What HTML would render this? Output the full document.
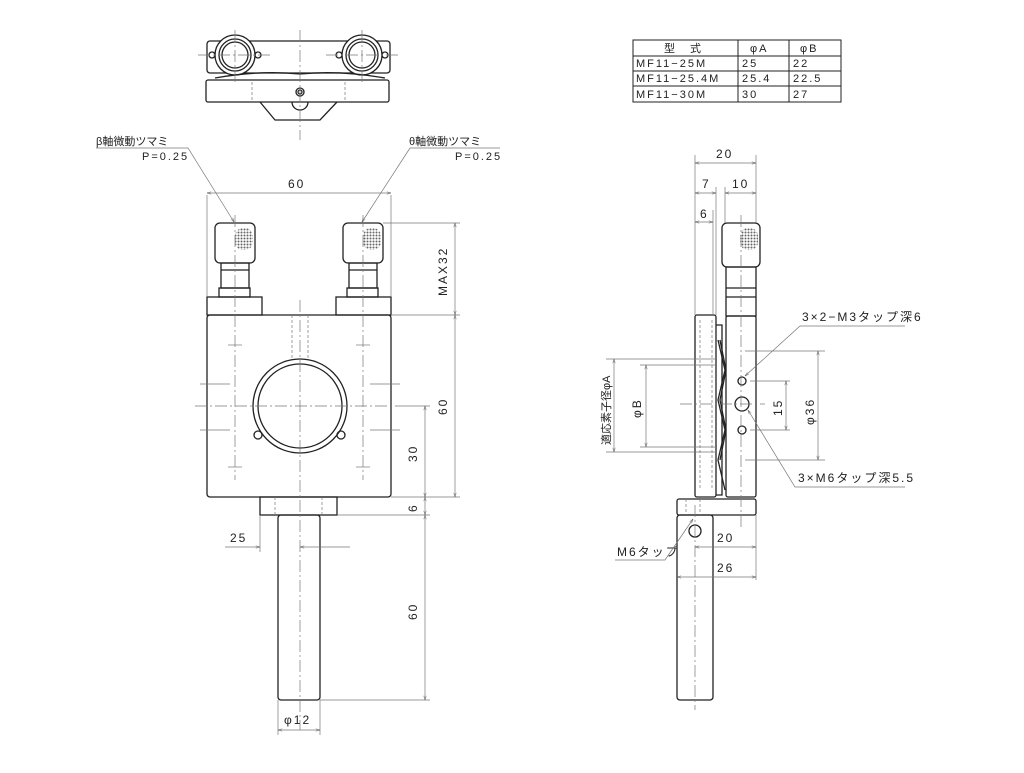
<!DOCTYPE html>
<html><head><meta charset="utf-8"><style>
html,body{margin:0;padding:0;background:#fff}
svg{display:block}
text{font-family:"Liberation Sans","Noto Sans CJK JP",sans-serif;font-size:12px;fill:#222;letter-spacing:2px}
.l{stroke:#222;stroke-width:1.3;fill:none}
.t{stroke:#777;stroke-width:.7;fill:none}
.c{stroke:#777;stroke-width:.7;fill:none;stroke-dasharray:12 3 2 3}
.h{stroke:#777;stroke-width:.7;fill:none;stroke-dasharray:3 2}
.tb{font-size:11px}
</style></head><body>
<svg width="1024" height="773" viewBox="0 0 1024 773" xmlns="http://www.w3.org/2000/svg">
<defs>
<marker id="a" viewBox="0 0 10 10" refX="10" refY="5" markerWidth="8" markerHeight="6" orient="auto-start-reverse"><path d="M0,2 L10,5 L0,8" fill="none" stroke="#555" stroke-width="1"/></marker>
<pattern id="k" width="3" height="3" patternUnits="userSpaceOnUse"><circle cx="1.5" cy="1.5" r="1" fill="#666"/></pattern>
</defs>

<!-- TABLE -->
<g class="l" style="stroke-width:1">
<rect x="633" y="40" width="208" height="62"/>
<line x1="633" y1="56" x2="841" y2="56"/><line x1="633" y1="71" x2="841" y2="71"/><line x1="633" y1="86" x2="841" y2="86"/>
<line x1="738" y1="40" x2="738" y2="102"/><line x1="789" y1="40" x2="789" y2="102"/>
</g>
<text x="664" y="52" class="tb">型　式</text>
<text x="750" y="52" class="tb">φA</text><text x="800" y="52" class="tb">φB</text>
<text x="636" y="67" class="tb">MF11−25M</text><text x="742" y="67" class="tb">25</text><text x="793" y="67" class="tb">22</text>
<text x="636" y="82" class="tb">MF11−25.4M</text><text x="742" y="82" class="tb">25.4</text><text x="793" y="82" class="tb">22.5</text>
<text x="636" y="98" class="tb">MF11−30M</text><text x="742" y="98" class="tb">30</text><text x="793" y="98" class="tb">27</text>

<!-- TOP VIEW -->
<g class="l">
<rect x="207" y="41" width="183" height="32" rx="3"/>
<circle cx="235" cy="55" r="20" fill="#fff"/><circle cx="235" cy="55" r="13"/><circle cx="235" cy="55" r="16"/>
<circle cx="362" cy="55" r="20" fill="#fff"/><circle cx="362" cy="55" r="13"/><circle cx="362" cy="55" r="16"/>
<circle cx="212" cy="55" r="3"/><circle cx="258" cy="55" r="3"/><circle cx="339" cy="55" r="3"/><circle cx="385" cy="55" r="3"/>
<path d="M215,78 Q260,70 300,74 Q340,70 385,78"/>
<rect x="206" y="80" width="183" height="22" rx="2"/>
<path d="M260,102 L275,120 L320,120 L337,102"/>
<path d="M292,102 A8,8 0 0 0 308,102"/>
<circle cx="300" cy="92" r="4"/><circle cx="300" cy="92" r="2"/>
</g>
<line class="c" x1="300" y1="30" x2="300" y2="140"/>
<line class="c" x1="235" y1="30" x2="235" y2="85"/><line class="c" x1="362" y1="30" x2="362" y2="85"/>
<line class="c" x1="198" y1="55" x2="272" y2="55"/><line class="c" x1="326" y1="55" x2="400" y2="55"/>
<line class="h" x1="252" y1="82" x2="252" y2="102"/><line class="h" x1="345" y1="82" x2="345" y2="102"/>

<!-- FRONT VIEW -->
<text x="96" y="145" style="font-size:11px;letter-spacing:0">β軸微動ツマミ</text>
<text x="142" y="160" style="font-size:11px">P=0.25</text>
<path class="t" d="M96,148 L188,148 L234,222" marker-end="url(#a)"/>
<text x="409" y="145" style="font-size:11px;letter-spacing:0">θ軸微動ツマミ</text>
<text x="455" y="160" style="font-size:11px">P=0.25</text>
<path class="t" d="M500,148 L410,148 L362,222" marker-end="url(#a)"/>

<g class="l">
<rect x="215" y="223" width="40" height="40" rx="5"/>
<rect x="221" y="263" width="28" height="25"/><rect x="219" y="288" width="31" height="9"/>
<rect x="343" y="223" width="40" height="40" rx="5"/>
<rect x="349" y="263" width="28" height="25"/><rect x="347" y="288" width="31" height="9"/>
<line x1="221" y1="270" x2="249" y2="270"/><line x1="349" y1="270" x2="377" y2="270"/>
<rect x="207" y="297" width="55" height="18"/><rect x="336" y="297" width="55" height="18"/>
<rect x="207" y="315" width="184" height="182" rx="3"/>
<circle cx="300" cy="406" r="47"/><circle cx="300" cy="406" r="42"/>
<circle cx="258" cy="435" r="4"/><circle cx="341" cy="435" r="4"/>
<rect x="260" y="497" width="77" height="18"/>
<rect x="278" y="515" width="42" height="185" rx="3"/>
</g>
<rect x="235" y="228" width="18" height="22" rx="8" fill="url(#k)"/>
<rect x="363" y="228" width="18" height="22" rx="8" fill="url(#k)"/>
<line class="c" x1="300" y1="300" x2="300" y2="730"/>
<line class="c" x1="235" y1="215" x2="235" y2="480"/><line class="c" x1="363" y1="215" x2="363" y2="480"/>
<line class="c" x1="195" y1="406" x2="400" y2="406"/>
<line class="h" x1="292" y1="315" x2="292" y2="360"/><line class="h" x1="308" y1="315" x2="308" y2="360"/>
<line class="h" x1="275" y1="497" x2="275" y2="515"/><line class="h" x1="322" y1="497" x2="322" y2="515"/>
<line class="t" x1="200" y1="384" x2="230" y2="384"/><line class="t" x1="370" y1="384" x2="400" y2="384"/>
<line class="t" x1="200" y1="430" x2="230" y2="430"/><line class="t" x1="370" y1="430" x2="400" y2="430"/>
<line class="t" x1="228" y1="345" x2="242" y2="345"/><line class="t" x1="356" y1="345" x2="370" y2="345"/>
<line class="t" x1="228" y1="467" x2="242" y2="467"/><line class="t" x1="356" y1="467" x2="370" y2="467"/>

<!-- front dims -->
<line class="t" x1="207" y1="195" x2="207" y2="297"/><line class="t" x1="391" y1="195" x2="391" y2="297"/>
<line class="t" x1="207" y1="193" x2="391" y2="193" marker-start="url(#a)" marker-end="url(#a)"/>
<text x="288" y="188">60</text>
<line class="t" x1="383" y1="223" x2="460" y2="223"/>
<line class="t" x1="391" y1="315" x2="460" y2="315"/>
<line class="t" x1="455" y1="223" x2="455" y2="315" marker-start="url(#a)" marker-end="url(#a)"/>
<text transform="translate(447,296) rotate(-90)">MAX32</text>
<line class="t" x1="391" y1="497" x2="460" y2="497"/>
<line class="t" x1="455" y1="315" x2="455" y2="497" marker-start="url(#a)" marker-end="url(#a)"/>
<text transform="translate(447,415) rotate(-90)">60</text>
<line class="t" x1="400" y1="406" x2="430" y2="406"/>
<line class="t" x1="425" y1="406" x2="425" y2="497" marker-start="url(#a)" marker-end="url(#a)"/>
<text transform="translate(417,462) rotate(-90)">30</text>
<line class="t" x1="337" y1="515" x2="430" y2="515"/>
<line class="t" x1="425" y1="497" x2="425" y2="515" marker-start="url(#a)" marker-end="url(#a)"/>
<text transform="translate(417,512) rotate(-90)">6</text>
<line class="t" x1="320" y1="700" x2="430" y2="700"/>
<line class="t" x1="425" y1="515" x2="425" y2="700" marker-start="url(#a)" marker-end="url(#a)"/>
<text transform="translate(417,620) rotate(-90)">60</text>
<line class="t" x1="260" y1="515" x2="260" y2="552"/>
<line class="t" x1="225" y1="547" x2="260" y2="547" marker-end="url(#a)"/>
<line class="t" x1="300" y1="547" x2="350" y2="547" marker-start="url(#a)"/>
<text x="230" y="542">25</text>
<line class="t" x1="278" y1="700" x2="278" y2="735"/><line class="t" x1="320" y1="700" x2="320" y2="735"/>
<line class="t" x1="278" y1="730" x2="320" y2="730" marker-start="url(#a)" marker-end="url(#a)"/>
<text x="284" y="724">φ12</text>

<!-- SIDE VIEW -->
<g class="l">
<rect x="722" y="223" width="38" height="44" rx="5"/>
<rect x="726" y="267" width="30" height="49"/>
<line x1="726" y1="288" x2="756" y2="288"/><line x1="726" y1="297" x2="756" y2="297"/>
<rect x="726" y="316" width="30" height="181" rx="2"/>
<rect x="695" y="315" width="21" height="182" rx="2"/>
<path d="M716,325 L722,325 L722,495 L716,495"/>
<path d="M718,340 L725,370 L718,400 L725,430 L718,460 L725,490"/>
<path d="M720,340 L726,370 L720,400 L726,430 L720,460"/>
<rect x="677" y="499" width="79" height="16" rx="2"/>
<rect x="677" y="515" width="36" height="185" rx="3"/>
<circle cx="695" cy="531" r="6"/>
<circle cx="742" cy="381" r="4"/><circle cx="742" cy="404" r="7"/><circle cx="742" cy="430" r="4"/>
</g>
<rect x="740" y="228" width="18" height="22" rx="8" fill="url(#k)"/>
<line class="c" x1="741" y1="215" x2="741" y2="530"/>
<line class="c" x1="695" y1="505" x2="695" y2="710"/>
<line class="c" x1="680" y1="404" x2="765" y2="404"/>
<line class="h" x1="700" y1="320" x2="700" y2="490"/><line class="h" x1="712" y1="320" x2="712" y2="490"/>
<line class="h" x1="686" y1="499" x2="686" y2="515"/><line class="h" x1="700" y1="499" x2="700" y2="515"/>

<!-- side dims -->
<line class="t" x1="695" y1="155" x2="695" y2="315"/><line class="t" x1="756" y1="155" x2="756" y2="223"/>
<line class="t" x1="716" y1="187" x2="716" y2="315"/><line class="t" x1="725" y1="187" x2="725" y2="223"/>
<line class="t" x1="695" y1="163" x2="756" y2="163" marker-start="url(#a)" marker-end="url(#a)"/>
<text x="716" y="158">20</text>
<line class="t" x1="695" y1="193" x2="716" y2="193" marker-start="url(#a)" marker-end="url(#a)"/>
<text x="702" y="188">7</text>
<line class="t" x1="725" y1="193" x2="756" y2="193" marker-start="url(#a)" marker-end="url(#a)"/>
<text x="732" y="188">10</text>
<line class="t" x1="713" y1="210" x2="713" y2="315"/>
<line class="t" x1="695" y1="222" x2="713" y2="222" marker-start="url(#a)" marker-end="url(#a)"/>
<text x="700" y="218">6</text>

<line class="t" x1="606" y1="359" x2="716" y2="359"/><line class="t" x1="606" y1="452" x2="716" y2="452"/>
<line class="t" x1="614" y1="359" x2="614" y2="452" marker-start="url(#a)" marker-end="url(#a)"/>
<text transform="translate(610,445) rotate(-90)" style="font-size:11px;letter-spacing:0">適応素子径φA</text>
<line class="t" x1="640" y1="365" x2="716" y2="365"/><line class="t" x1="640" y1="447" x2="716" y2="447"/>
<line class="t" x1="646" y1="365" x2="646" y2="447" marker-start="url(#a)" marker-end="url(#a)"/>
<text transform="translate(641,418) rotate(-90)">φB</text>
<line class="t" x1="750" y1="381" x2="790" y2="381"/><line class="t" x1="750" y1="430" x2="790" y2="430"/>
<line class="t" x1="786" y1="381" x2="786" y2="430" marker-start="url(#a)" marker-end="url(#a)"/>
<text transform="translate(782,416) rotate(-90)">15</text>
<line class="t" x1="745" y1="351" x2="825" y2="351"/><line class="t" x1="745" y1="460" x2="825" y2="460"/>
<line class="t" x1="818" y1="351" x2="818" y2="460" marker-start="url(#a)" marker-end="url(#a)"/>
<text transform="translate(814,425) rotate(-90)">φ36</text>

<text x="802" y="321">3×2−M3タップ深6</text>
<path class="t" d="M905,326 L800,326 L745,376" marker-end="url(#a)"/>
<text x="798" y="482">3×M6タップ深5.5</text>
<path class="t" d="M905,487 L795,487 L748,410" marker-end="url(#a)"/>
<text x="617" y="556">M6タップ</text>
<path class="t" d="M615,560 L665,560 L693,519" marker-end="url(#a)"/>

<line class="t" x1="756" y1="515" x2="756" y2="580"/>
<line class="t" x1="695" y1="547" x2="756" y2="547" marker-start="url(#a)" marker-end="url(#a)"/>
<text x="717" y="542">20</text>
<line class="t" x1="677" y1="577" x2="756" y2="577" marker-start="url(#a)" marker-end="url(#a)"/>
<text x="717" y="572">26</text>
</svg>
</body></html>
